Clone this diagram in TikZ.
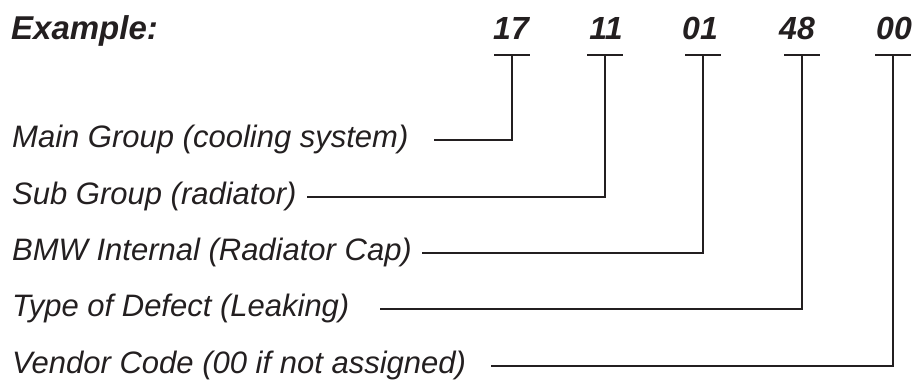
\documentclass[tikz,border=0pt]{standalone}
\usepackage{fontspec}
\setmainfont{Liberation Sans}
\usetikzlibrary{calc}
\definecolor{ink}{HTML}{231F20}
\begin{document}
\begin{tikzpicture}[x=1pt,y=-1pt,
  lbl/.style={anchor=base west,inner sep=0pt,font=\fontsize{31}{36}\selectfont\itshape,text=ink},
  num/.style={anchor=base,inner sep=0pt,font=\fontsize{32}{36}\selectfont\bfseries\itshape,text=ink},
  head/.style={anchor=base west,inner sep=0pt,font=\fontsize{33}{38}\selectfont\bfseries\itshape,text=ink},
  wire/.style={line width=2pt,draw=ink},
  bar/.style={line width=2pt,draw=ink}]
\useasboundingbox (0,0) rectangle (915,383);
% heading and numbers
\node[head] (ex) at (11,39) {Example:};
\node[num] (n1) at (511,39) {17};
\node[num] (n2) at (606,39) {11};
\node[num] (n3) at (700,39) {01};
\node[num] (n4) at (797,39) {48};
\node[num] (n5) at (894,39) {00};
% T-bar tops
\coordinate (t1) at (512,55);
\coordinate (t2) at (605,55);
\coordinate (t3) at (703,55);
\coordinate (t4) at (802,55);
\coordinate (t5) at (893,55);
\foreach \t in {t1,t2,t3,t4,t5}{
  \draw[bar] ($(\t)+(-18,0)$) -- ($(\t)+(18,0)$);
}
% labels
\node[lbl] (l1) at (12,147) {Main Group (cooling system)};
\node[lbl] (l2) at (12,204) {Sub Group (radiator)};
\node[lbl] (l3) at (12,260) {BMW Internal (Radiator Cap)};
\node[lbl] (l4) at (12,316) {Type of Defect (Leaking)};
\node[lbl] (l5) at (12,373) {Vendor Code (00 if not assigned)};
% connector start points
\coordinate (s1) at (434,140);
\coordinate (s2) at (307,197);
\coordinate (s3) at (422,253);
\coordinate (s4) at (380,309);
\coordinate (s5) at (491,366);
\draw[wire] (s1) -| (t1);
\draw[wire] (s2) -| (t2);
\draw[wire] (s3) -| (t3);
\draw[wire] (s4) -| (t4);
\draw[wire] (s5) -| (t5);
\end{tikzpicture}
\end{document}
